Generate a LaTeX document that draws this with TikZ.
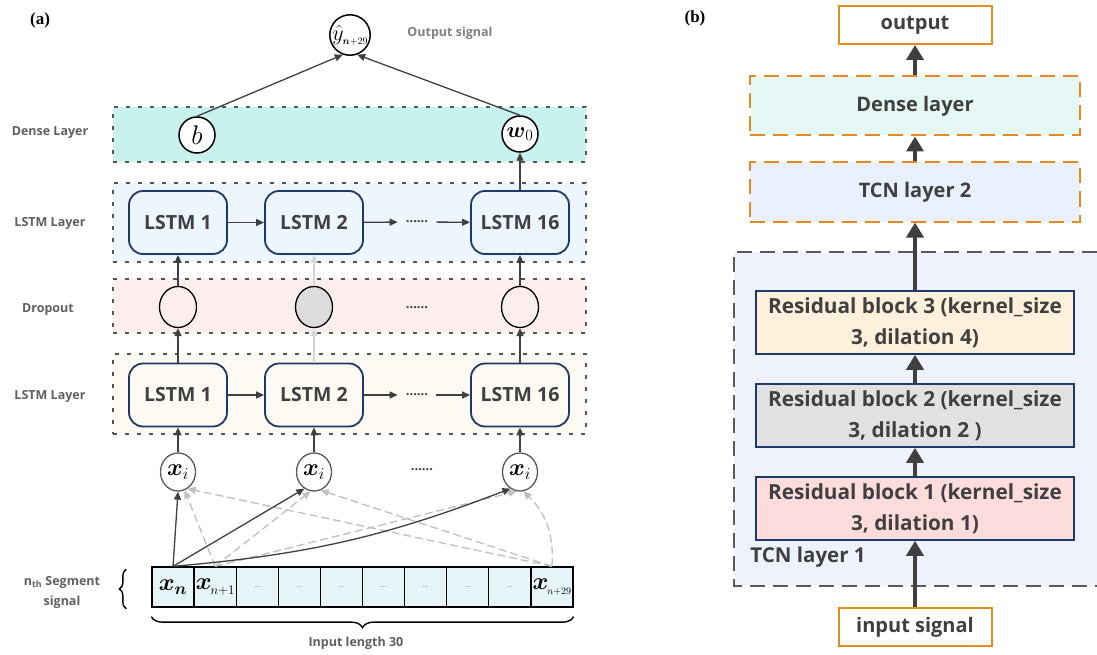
\RequirePackage{fix-cm}
\documentclass[tikz,border=0pt]{standalone}
\usepackage{amsmath,amssymb}
\usepackage{fontspec}
\setmainfont{Open Sans}
\newfontfamily\tagfont{Liberation Serif}
\usepackage{tikz}
\usetikzlibrary{arrows.meta,positioning,shapes.geometric,decorations.pathreplacing}

\definecolor{textdark}{HTML}{404040}
\definecolor{labelgrey}{HTML}{5F5F5F}
\definecolor{outgrey}{HTML}{808080}
\definecolor{bandgrey}{HTML}{555555}
\definecolor{densefill}{HTML}{C9F1EE}
\definecolor{lstmfill}{HTML}{EDF5FE}
\definecolor{dropfill}{HTML}{FDEEEE}
\definecolor{lstmfilllow}{HTML}{FDF9F3}
\definecolor{navy}{HTML}{1F3A68}
\definecolor{cellfill}{HTML}{E6F4F7}
\definecolor{circgrey}{HTML}{595959}
\definecolor{dropgrey}{HTML}{DCDCDC}
\definecolor{faintgrey}{HTML}{D6D6D6}
\definecolor{dashgrey}{HTML}{BFBFBF}
\definecolor{dotgrey}{HTML}{808080}
\definecolor{tcnorange}{HTML}{E58A1F}
\definecolor{densebfill}{HTML}{E6F8F6}
\definecolor{tcntwofill}{HTML}{EAF0FD}
\definecolor{tcnonefill}{HTML}{EEF2FD}
\definecolor{tcnborder}{HTML}{5A5A5A}
\definecolor{resthreefill}{HTML}{FFF0DC}
\definecolor{restwofill}{HTML}{E0E2E2}
\definecolor{resonefill}{HTML}{FDDCDC}

\begin{document}
\begin{tikzpicture}[
    x=1pt, y=-1pt,
    band_style/.style={draw=bandgrey, line width=1.7pt, dash pattern=on 4pt off 8pt, minimum width=473pt, inner sep=0pt},
    side_label_style/.style={text=labelgrey, font=\bfseries\fontsize{12.5}{20}\selectfont, align=center},
    lstm_node_style/.style={draw=navy, line width=1.8pt, rounded corners=14pt, minimum width=98pt, minimum height=63pt, inner sep=0pt, text=textdark, font=\bfseries\fontsize{19.5}{20}\selectfont},
    drop_node_style/.style={ellipse, draw, line width=1.3pt, minimum width=37pt, minimum height=41pt, inner sep=0pt},
    xi_node_style/.style={ellipse, draw=circgrey, line width=1.3pt, fill=white, minimum width=35pt, minimum height=38pt, inner sep=0pt, font=\fontsize{24}{24}\selectfont},
    dense_node_style/.style={circle, draw, line width=1.5pt, fill=white, minimum size=36pt, inner sep=0pt},
    cell_style/.style={draw, line width=1.3pt, fill=cellfill, minimum width=42.1pt, minimum height=40pt, inner sep=0pt},
    cell_math_style/.style={inner sep=0pt, font=\fontsize{24}{24}\selectfont},
    dots_style/.style={text=textdark, inner xsep=8pt, font=\bfseries\fontsize{13}{13}\selectfont},
    brace_style/.style={decorate, line width=1.4pt},
    flow_arrow/.style={-{Triangle[length=8pt,width=7pt]}, line width=1.3pt, draw=textdark},
    faint_arrow/.style={flow_arrow, draw=faintgrey},
    skip_arrow/.style={-{Triangle[length=8pt,width=7pt]}, line width=1.3pt, draw=dashgrey, dash pattern=on 8pt off 4pt},
    tag_style/.style={font=\tagfont\bfseries\fontsize{17}{17}\selectfont},
    tcn_box_style/.style={draw=tcnorange, line width=2pt, dash pattern=on 15pt off 8pt, minimum width=330pt, minimum height=59pt, inner sep=0pt, text=textdark, font=\bfseries\fontsize{20}{22}\selectfont},
    end_box_style/.style={draw=tcnorange, line width=2pt, fill=white, minimum width=153pt, minimum height=38pt, inner sep=0pt, text=textdark, font=\bfseries\fontsize{20}{22}\selectfont},
    res_box_style/.style={draw=navy, line width=1.6pt, minimum width=318pt, minimum height=63pt, inner sep=0pt, align=center, text=textdark, font=\bfseries\fontsize{20.8}{31}\selectfont},
    thick_arrow/.style={-{Triangle[length=15pt,width=17pt]}, line width=4pt, draw=textdark}
]

\fill[white] (0,0) rectangle (1097,655);
\useasboundingbox (0,0) rectangle (1097,655);

% (a): LSTM network
\node[tag_style] (tag_a) at (40,20) {(a)};

% layer bands
\node[band_style, fill=densefill, minimum height=55pt] (dense_band) at (349.5,134.5) {};
\node[band_style, fill=lstmfill, minimum height=79pt] (lstm_band_top) at (349.5,222.5) {};
\node[band_style, fill=dropfill, minimum height=54pt] (drop_band) at (349.5,306) {};
\node[band_style, fill=lstmfilllow, minimum height=80pt] (lstm_band_low) at (349.5,394) {};

\node[side_label_style] (dense_label) at (50,133) {Dense Layer};
\node[side_label_style] (lstm_label_top) at (50,223) {LSTM Layer};
\node[side_label_style] (drop_label) at (48,310) {Dropout};
\node[side_label_style] (lstm_label_low) at (50,396) {LSTM Layer};
\node[side_label_style] (seg_label) at (62,592) {n\textsubscript{th} Segment\\signal};

% output and dense layer
\node[dense_node_style] (out_node) at (350,35) {\fontsize{22}{22}\selectfont$\hat{y}$\kern-1pt\raisebox{-4pt}{\fontsize{10}{10}\selectfont$\boldsymbol{n}{+}29$}};
\node[text=outgrey, font=\bfseries\fontsize{12.5}{14}\selectfont] (out_label) at (450,33) {Output signal};
\node[dense_node_style] (b_node) at (197,135) {\fontsize{27}{27}\selectfont$b$};
\node[dense_node_style] (w_node) at (520,134) {\fontsize{22}{22}\selectfont$\boldsymbol{w}_{0}$};

% LSTM cells, dropout units and inputs
\foreach \k/\x/\num in {1/178/1, 2/314/2, 3/520/16} {
    \node[lstm_node_style, fill=lstmfill] (lstm_top\k) at (\x,222.5) {LSTM \num};
    \node[lstm_node_style, fill=lstmfilllow] (lstm_low\k) at (\x,395) {LSTM \num};
    \node[xi_node_style] (xi\k) at (\x,472) {$\boldsymbol{x}_{i}$};
}
\node[drop_node_style] (drop1) at (178,307) {};
\node[drop_node_style, fill=dropgrey] (drop2) at (314,307) {};
\node[drop_node_style] (drop3) at (520,307) {};

\node[dots_style] (dots_top) at (417,222) {......};
\node[dots_style] (dots_drop) at (417,308) {......};
\node[dots_style] (dots_low) at (417,395) {......};
\node[dots_style] (dots_xi) at (422,470) {......};

\draw[flow_arrow] (lstm_top1) -- (lstm_top2);
\draw[flow_arrow] (lstm_top2) -- (dots_top);
\draw[flow_arrow] (dots_top) -- (lstm_top3);
\draw[flow_arrow] (lstm_low1) -- (lstm_low2);
\draw[flow_arrow] (lstm_low2) -- (dots_low);
\draw[flow_arrow] (dots_low) -- (lstm_low3);

\foreach \k in {1,3} {
    \draw[flow_arrow] (lstm_low\k) -- (drop\k);
    \draw[flow_arrow] (drop\k) -- (lstm_top\k);
}
\foreach \k in {1,2,3}
    \draw[flow_arrow] (xi\k) -- (lstm_low\k);
\draw[faint_arrow] (lstm_low2) -- (drop2);
\draw[faint_arrow] (drop2) -- (lstm_top2);

\draw[flow_arrow] (lstm_top3) -- (w_node);
\draw[flow_arrow] (b_node.north) -- (out_node.-110);
\draw[flow_arrow] (w_node.north) -- (out_node.-70);

% input segment
\foreach \i in {0,...,9}
    \node[cell_style] (cell\i) at ({152+42.1*(\i+0.5)},587) {};
\node[cell_math_style] at (cell0) {$\boldsymbol{x}_{\boldsymbol{n}}$};
\node[cell_math_style] at (cell1) {$\boldsymbol{x}$\kern-1pt\raisebox{-5pt}{\fontsize{13}{13}\selectfont$n{+}1$}};
\foreach \i in {2,...,8}
    \node[text=dotgrey, font=\fontsize{7}{7}\selectfont] at (cell\i) {...};
\node[cell_math_style] at (cell9) {$\boldsymbol{x}$\kern-1pt\raisebox{-5pt}{\fontsize{10}{10}\selectfont$n{+}29$}};

\draw[brace_style, decoration={brace, amplitude=7pt}] ([xshift=-25pt, yshift=-1pt]cell0.south west) -- ([xshift=-25pt, yshift=-3pt]cell0.north west);
\draw[brace_style, decoration={brace, amplitude=11pt}] ([yshift=-9pt]cell9.south east) -- ([yshift=-9pt]cell0.south west);
\node[side_label_style] (len_label) at (356,643) {Input length 30};

% connections from the segment to the inputs
\foreach \dst/\ang in {xi1/-70, xi2/-100, xi3/-100}
    \draw[skip_arrow] (cell1.north) -- (\dst.\ang);
\draw[skip_arrow] (cell9.north) -- (xi1.-60);
\draw[skip_arrow] (cell9.north) -- (xi2.-70);
\draw[skip_arrow] (cell9.north) to[bend right=25] (xi3.-80);
\draw[flow_arrow] (cell0.north) -- (xi1.south);
\draw[flow_arrow] (cell0.north) -- (xi2.-120);
\draw[flow_arrow] (cell0.north) to[bend right=8] (xi3.-120);

% (b): TCN network
\node[tag_style] (tag_b) at (695,18) {(b)};

\fill[tcnonefill] (734,252) rectangle (1097,586);
\draw[tcnborder, line width=2pt, dash pattern=on 15pt off 8pt] (1097,252) -- (734,252) -- (734,586) -- (1097,586);
\node[text=textdark, font=\bfseries\fontsize{20.5}{22}\selectfont] (tcn1_label) at (808,557) {TCN layer 1};

\node[end_box_style] (out_box) at (915,25) {output};
\node[tcn_box_style, fill=densebfill] (dense_box) at (915,106) {Dense layer};
\node[tcn_box_style, fill=tcntwofill] (tcn2_box) at (915,192) {TCN layer 2};
\node[res_box_style, fill=resthreefill] (res3) at (915,322.5) {Residual block 3 (kernel\_size\\3, dilation 4)};
\node[res_box_style, fill=restwofill] (res2) at (915,415.5) {Residual block 2 (kernel\_size\\3, dilation 2 )};
\node[res_box_style, fill=resonefill] (res1) at (915,508.5) {Residual block 1 (kernel\_size\\3, dilation 1)};
\node[end_box_style] (in_box) at (915,627) {input signal};

\foreach \u/\v in {in_box/res1, res1/res2, res2/res3, res3/tcn2_box, tcn2_box/dense_box, dense_box/out_box}
    \draw[thick_arrow] (\u) -- (\v);

\end{tikzpicture}
\end{document}
